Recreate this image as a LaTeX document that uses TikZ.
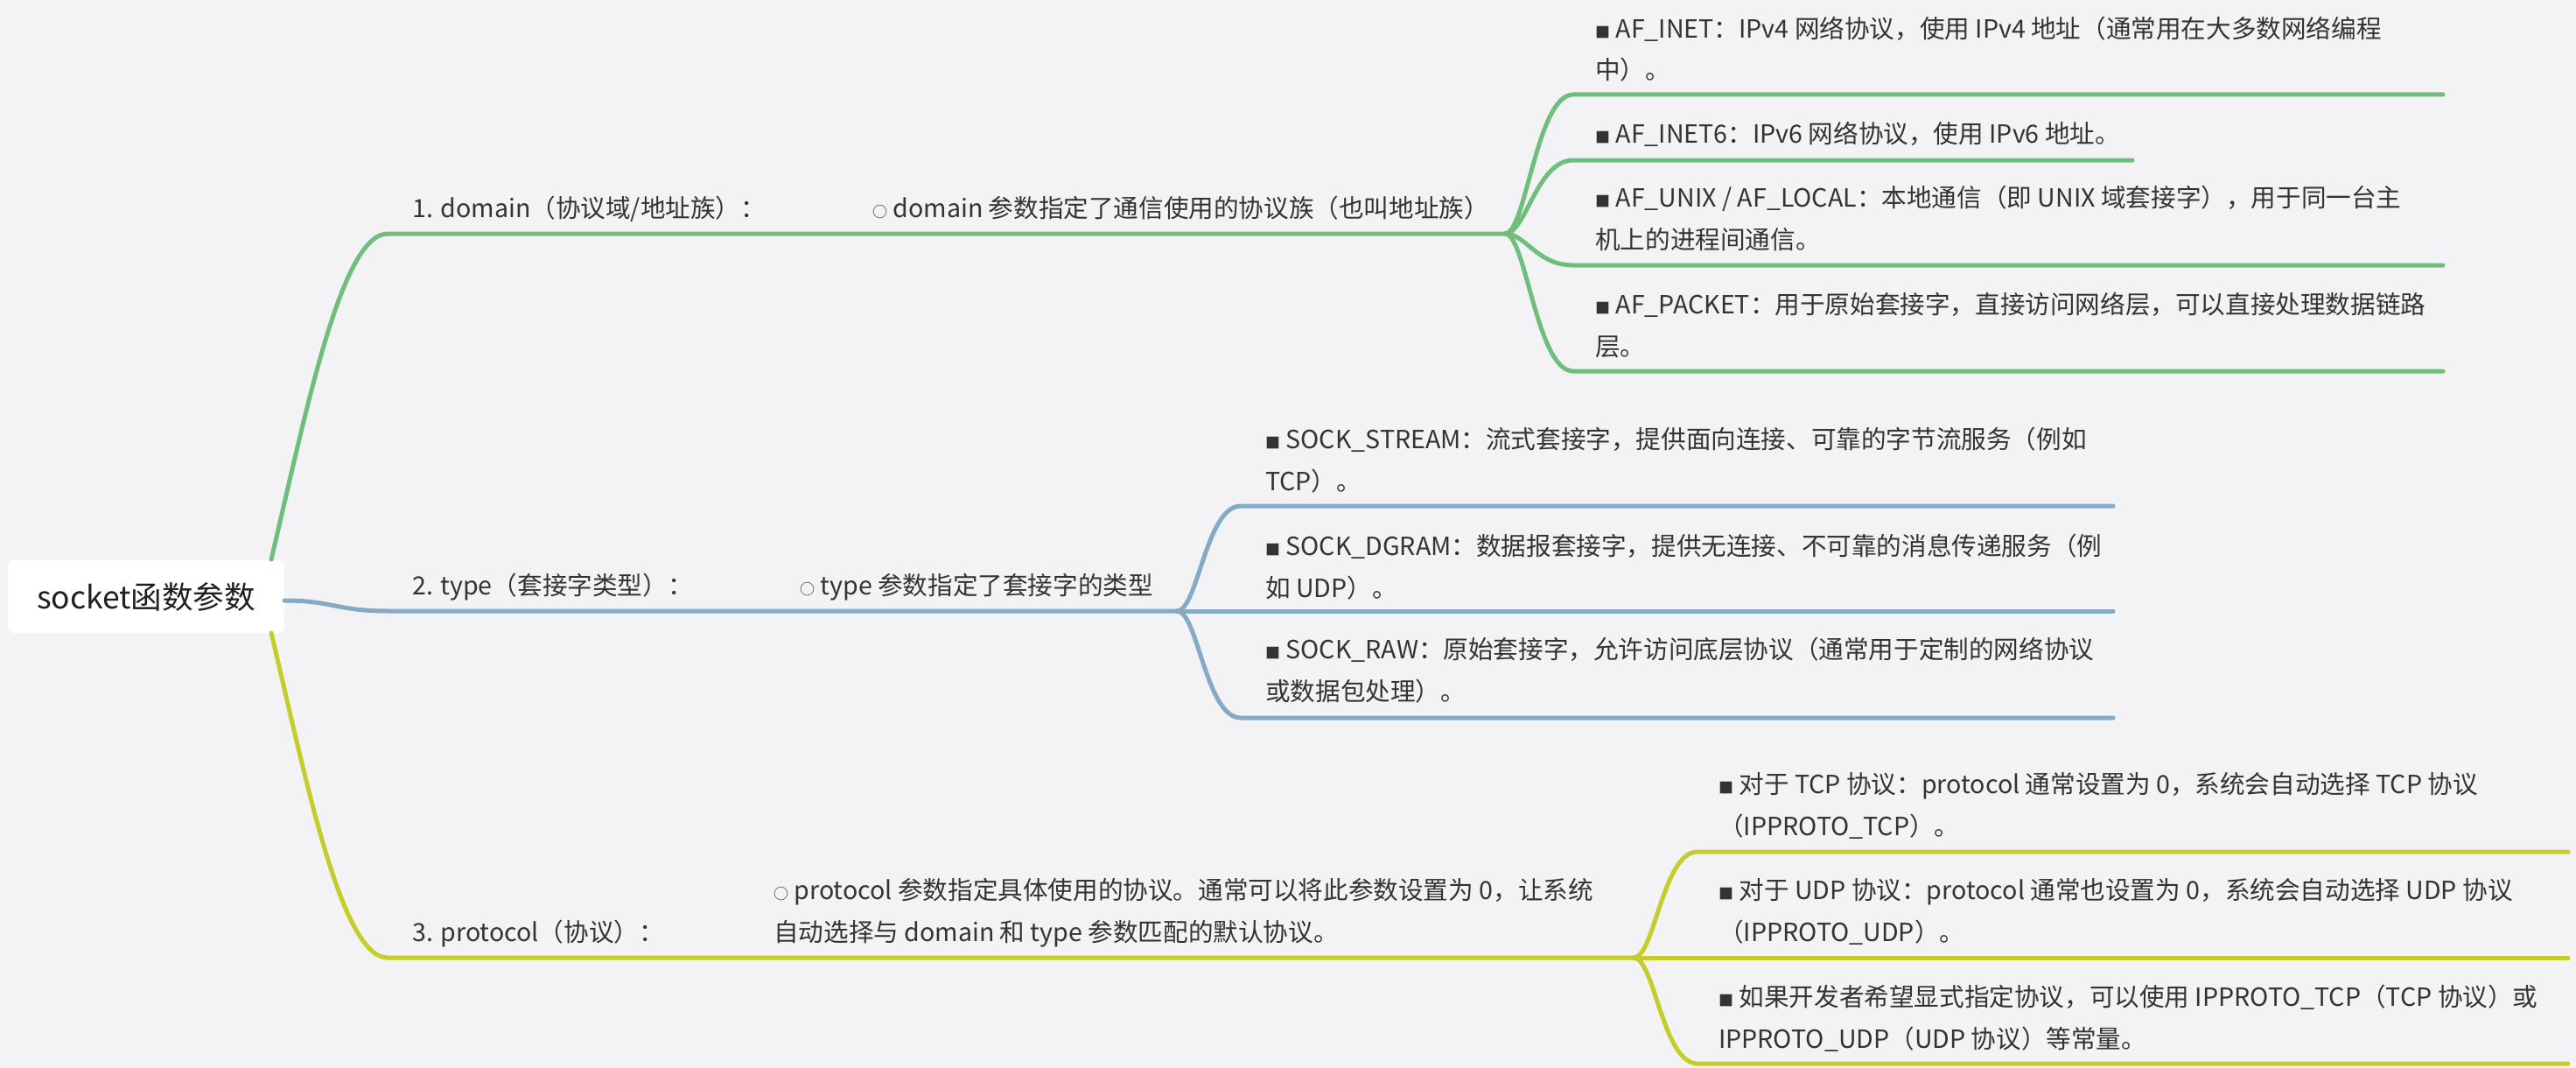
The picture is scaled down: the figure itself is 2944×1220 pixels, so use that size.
\documentclass[tikz,border=0pt]{standalone}
\usepackage{fontspec}
\setmainfont{Noto Sans CJK SC}
\usetikzlibrary{calc}
\definecolor{bg}{HTML}{F3F3F6}
\definecolor{cg}{HTML}{70BE7E}
\definecolor{cb}{HTML}{84AAC4}
\definecolor{cy}{HTML}{C5CD2A}
\definecolor{tx}{HTML}{333333}
\newcommand{\sq}{{\fontsize{17}{17}\selectfont ■}}
\newcommand{\ci}{{\fontsize{17}{17}\selectfont ○}}
\begin{document}
\begin{tikzpicture}[x=1pt,y=-1pt,
  txt/.style={anchor=base west, inner sep=0pt, text=tx, font=\fontsize{28.6}{47.5}\selectfont, align=left},
  ln/.style={line width=5pt, line cap=round},
  rootbox/.style={fill=white, rounded corners=7pt, minimum width=316pt, minimum height=83pt, inner sep=0pt, text=black!88, font=\fontsize{35.5}{40}\selectfont}]
\fill[bg] (0,0) rectangle (2944,1220);
\useasboundingbox (0,0) rectangle (2944,1220);

% root
\node[rootbox] (root) at (167,681.5) {socket函数参数};

% coordinates for connectors
\coordinate (gs) at (310,639);
\coordinate (g1) at (443,267);
\coordinate (gb) at (1720,267);
\coordinate (bs) at (325,686);
\coordinate (b1) at (443,698);
\coordinate (bb) at (1345,698);
\coordinate (ys) at (310,723);
\coordinate (y1) at (443,1094);
\coordinate (yb) at (1867,1094);

% green sub ends
\coordinate (ga1) at (1798,108);  \coordinate (ga2) at (2792,108);
\coordinate (gc1) at (1798,183);  \coordinate (gc2) at (2437,183);
\coordinate (gd1) at (1798,303);  \coordinate (gd2) at (2792,303);
\coordinate (ge1) at (1798,424);  \coordinate (ge2) at (2792,424);
% blue sub ends
\coordinate (ba1) at (1418,578);  \coordinate (ba2) at (2415,578);
\coordinate (bc2) at (2415,698);
\coordinate (bd1) at (1418,820);  \coordinate (bd2) at (2415,820);
% yellow sub ends
\coordinate (ya1) at (1940,973);  \coordinate (ya2) at (2935,973);
\coordinate (yc2) at (2935,1094);
\coordinate (yd1) at (1940,1215); \coordinate (yd2) at (2935,1215);

% main branches
\draw[ln,cg] (gs) .. controls (350,470) and (390,267) .. (g1) -- (gb);
\draw[ln,cb] (bs) .. controls (380,686) and (385,698) .. (b1) -- (bb);
\draw[ln,cy] (ys) .. controls (350,891) and (390,1094) .. (y1) -- (yb);

% green sub-branches
\foreach \a/\b in {ga1/ga2, gc1/gc2, gd1/gd2, ge1/ge2}{
  \draw[ln,cg] (gb) .. controls ($(gb)+(24,0)$) and ($(\a)+(-42,0)$) .. (\a) -- (\b);
}
% blue sub-branches
\foreach \a/\b in {ba1/ba2, bd1/bd2}{
  \draw[ln,cb] (bb) .. controls ($(bb)+(24,0)$) and ($(\a)+(-40,0)$) .. (\a) -- (\b);
}
\draw[ln,cb] (bb) -- (bc2);
% yellow sub-branches
\foreach \a/\b in {ya1/ya2, yd1/yd2}{
  \draw[ln,cy] (yb) .. controls ($(yb)+(24,0)$) and ($(\a)+(-40,0)$) .. (\a) -- (\b);
}
\draw[ln,cy] (yb) -- (yc2);

% texts: domain (anchor = baseline of last line)
\node[txt] (t1) at (471,248) {1. domain（协议域/地址族）：};
\node[txt] (t1a) at (997,248) {\ci\ domain 参数指定了通信使用的协议族（也叫地址族）};
\node[txt] (t1a1) at (1823,91) {\sq\ AF\_INET：IPv4 网络协议，使用 IPv4 地址（通常用在大多数网络编程\\中）。};
\node[txt] (t1a2) at (1823,164) {\sq\ AF\_INET6：IPv6 网络协议，使用 IPv6 地址。};
\node[txt] (t1a3) at (1823,284) {\sq\ AF\_UNIX / AF\_LOCAL：本地通信（即 UNIX 域套接字），用于同一台主\\机上的进程间通信。};
\node[txt] (t1a4) at (1823,406) {\sq\ AF\_PACKET：用于原始套接字，直接访问网络层，可以直接处理数据链路\\层。};

% type
\node[txt] (t2) at (471,679) {2. type（套接字类型）：};
\node[txt] (t2a) at (914,679) {\ci\ type 参数指定了套接字的类型};
\node[txt] (t2a1) at (1446,560) {\sq\ SOCK\_STREAM：流式套接字，提供面向连接、可靠的字节流服务（例如\\TCP）。};
\node[txt] (t2a2) at (1446,682) {\sq\ SOCK\_DGRAM：数据报套接字，提供无连接、不可靠的消息传递服务（例\\如 UDP）。};
\node[txt] (t2a3) at (1446,800) {\sq\ SOCK\_RAW：原始套接字，允许访问底层协议（通常用于定制的网络协议\\或数据包处理）。};

% protocol
\node[txt] (t3) at (471,1075) {3. protocol（协议）：};
\node[txt] (t3a) at (884,1075) {\ci\ protocol 参数指定具体使用的协议。通常可以将此参数设置为 0，让系统\\自动选择与 domain 和 type 参数匹配的默认协议。};
\node[txt] (t3a1) at (1964,954) {\sq\ 对于 TCP 协议：protocol 通常设置为 0，系统会自动选择 TCP 协议\\（IPPROTO\_TCP）。};
\node[txt] (t3a2) at (1964,1075) {\sq\ 对于 UDP 协议：protocol 通常也设置为 0，系统会自动选择 UDP 协议\\（IPPROTO\_UDP）。};
\node[txt] (t3a3) at (1964,1197) {\sq\ 如果开发者希望显式指定协议，可以使用 IPPROTO\_TCP（TCP 协议）或\\IPPROTO\_UDP（UDP 协议）等常量。};
\end{tikzpicture}
\end{document}
